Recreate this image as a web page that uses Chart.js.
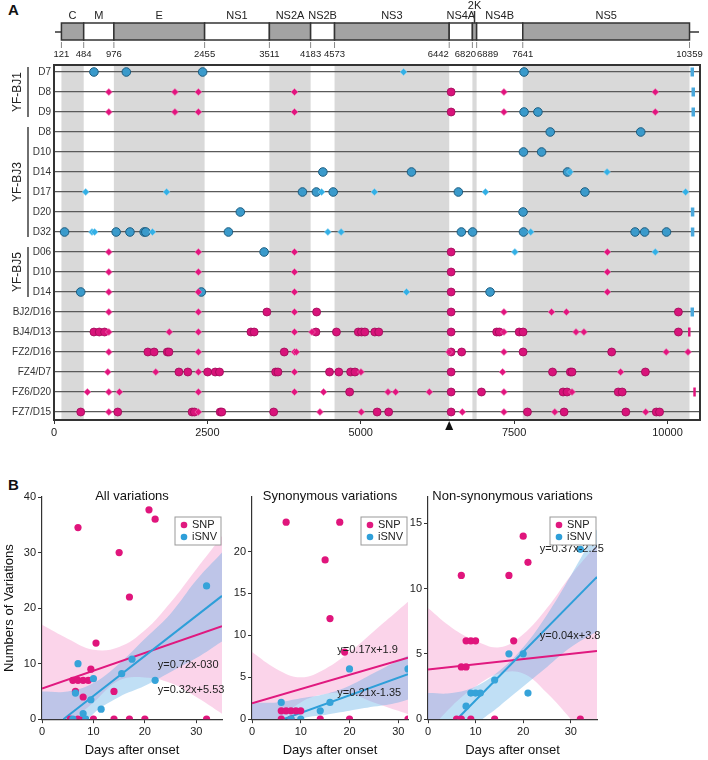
<!DOCTYPE html>
<html>
<head>
<meta charset="utf-8">
<script src="https://cdn.jsdelivr.net/npm/chart.js@4.4.0/dist/chart.umd.min.js"></script>
<style>
body { margin: 0; background: #fff; font-family: Arial, "Liberation Sans", sans-serif; }
#wrap { position: relative; width: 708px; height: 760px; overflow: hidden; }
canvas { position: absolute; }
.tag { position: absolute; font-weight: bold; font-size: 15px; color: #111; }
</style>
</head>
<body>
<div id="wrap">
  <div class="tag" style="left:8px;top:1px">A</div>
  <div class="tag" style="left:8px;top:476px">B</div>
  <canvas id="genome" style="left:0;top:0" width="708" height="442"></canvas>
  <canvas id="allVar" style="left:0;top:482px" width="232" height="278"></canvas>
  <canvas id="synVar" style="left:232px;top:482px" width="184" height="278"></canvas>
  <canvas id="nonVar" style="left:410px;top:482px" width="298" height="278"></canvas>
</div>
<script>
// ---------- panel A data ----------
var rowLabels = ["D7", "D8", "D9", "D8", "D10", "D14", "D17", "D20", "D32", "D06", "D10", "D14",
                 "BJ2/D16", "BJ4/D13", "FZ2/D16", "FZ4/D7", "FZ6/D20", "FZ7/D15"];
var groupNames = ["YF-BJ1", "YF-BJ3", "YF-BJ5"];
var groupRows = [[0, 2], [3, 8], [9, 11]];

var geneNames = ["C", "M", "E", "NS1", "NS2A", "NS2B", "NS3", "NS4A", "2K", "NS4B", "NS5"];
var geneStarts = [121, 484, 976, 2455, 3511, 4183, 4573, 6442, 6820, 6889, 7641];
var genomeEnd = 10359;
var greyGenes = ["C", "E", "NS2A", "NS3", "2K", "NS5"];
var xTicks = [0, 2500, 5000, 7500, 10000];

// positions per row (index = row in rowLabels)
var snpSyn = [
  [], [894, 1971, 2353, 3920, 7334, 9801], [894, 1971, 2353, 3920, 7334, 9801],
  [], [], [], [], [], [],
  [894, 2353, 3920, 9020], [894, 2353, 3920, 9020], [894, 2353, 3920, 9020],
  [894, 2353, 3920, 7334, 8110, 8352],
  [894, 1879, 2353, 3920, 4205, 7334, 8509, 8638],
  [894, 2353, 3920, 3950, 6440, 7334, 9979, 10334],
  [877, 1659, 2353, 3920, 5003, 7313, 9236],
  [544, 894, 1066, 2353, 3920, 4394, 5444, 5569, 6118, 7334, 8444],
  [894, 2353, 4335, 5008, 6656, 7334, 8163, 9645]
];
var snpNonsyn = [
  [], [6473], [6473],
  [], [], [], [], [], [],
  [6473], [6473], [6473],
  [3470, 4281, 6473, 10178],
  [651, 738, 824, 3210, 3263, 4270, 4604, 4960, 5013, 5067, 5229, 5294, 6473, 7216, 7259, 7582, 7646, 10178],
  [1530, 1632, 1847, 1874, 3753, 6473, 6645, 7646, 9090],
  [2036, 2181, 2504, 2628, 2698, 3613, 3651, 4491, 4642, 4835, 4906, 6473, 8126, 8417, 8444, 9640],
  [4819, 6473, 6968, 8298, 8363, 9197, 9262],
  [436, 1039, 2251, 2289, 2709, 2735, 3581, 5267, 5455, 6473, 7717, 8315, 9321, 9817, 9871]
];
var isnvNonsyn = [
  [651, 1179, 2423, 7662], [], [7662, 7888],
  [8089, 9564], [7652, 7948], [4383, 5827, 8370], [4050, 4276, 4551, 6591, 8654], [3037, 7646],
  [172, 1013, 1238, 1470, 1497, 2843, 6640, 6823, 7652, 9472, 9628, 9984],
  [3425], [], [436, 2402, 7108],
  [], [], [], [], [], []
];
var isnvSyn = [
  [5698], [], [],
  [], [], [8410, 9015], [517, 1836, 4362, 5223, 7033, 10296], [],
  [619, 662, 1605, 4464, 4680, 7771],
  [7512, 9801], [], [5746],
  [], [], [], [], [], []
];
var utrIsnv = [
  [10404], [10420], [10420], [], [], [], [], [10409], [10409],
  [], [], [], [10404], [], [], [], [], []
];
var utrSnp = [
  [], [], [], [], [], [], [], [], [], [], [], [], [], [10355], [], [], [10441], []
];
var markerPos = 6442;

function toPoints(rows) {
  var pts = [];
  rows.forEach(function (list, r) {
    list.forEach(function (p) { pts.push({x: p, y: r}); });
  });
  return pts;
}

var magenta = "#e2147e";
var blueDark = "#3a9acb";
var blueLight = "#33b0e6";

function geneEnd(i) {
  return i + 1 < geneStarts.length ? geneStarts[i + 1] : genomeEnd;
}

var genomeDecor = {
  id: "genomeDecor",
  beforeDraw: function (chart) {
    var ctx = chart.ctx, a = chart.chartArea, xs = chart.scales.x;
    ctx.save();
    ctx.fillStyle = "#d9d9d9";
    geneNames.forEach(function (g, i) {
      if (greyGenes.indexOf(g) < 0) return;
      var x1 = xs.getPixelForValue(geneStarts[i]), x2 = xs.getPixelForValue(geneEnd(i));
      ctx.fillRect(x1, a.top, x2 - x1, a.bottom - a.top);
    });
    ctx.restore();
  },
  afterDraw: function (chart) {
    var ctx = chart.ctx, a = chart.chartArea, xs = chart.scales.x, ys = chart.scales.y;
    ctx.save();
    // frame
    ctx.strokeStyle = "#333";
    ctx.lineWidth = 2;
    ctx.strokeRect(a.left, a.top, a.right - a.left, a.bottom - a.top);

    // genome map
    var top = 23, bot = 40, mid = 32;
    ctx.lineWidth = 1.5;
    ctx.beginPath();
    ctx.moveTo(a.left + 1, mid); ctx.lineTo(a.right - 1, mid);
    ctx.stroke();
    geneNames.forEach(function (g, i) {
      var x1 = xs.getPixelForValue(geneStarts[i]), x2 = xs.getPixelForValue(geneEnd(i));
      ctx.fillStyle = greyGenes.indexOf(g) >= 0 ? "#a3a3a3" : "#fff";
      ctx.fillRect(x1, top, x2 - x1, bot - top);
      ctx.strokeRect(x1, top, x2 - x1, bot - top);
    });
    ctx.fillStyle = "#222";
    ctx.font = "11px Arial, 'Liberation Sans'";
    ctx.textAlign = "center";
    ctx.textBaseline = "middle";
    geneNames.forEach(function (g, i) {
      var cx = (xs.getPixelForValue(geneStarts[i]) + xs.getPixelForValue(geneEnd(i))) / 2;
      if (g === "2K") {
        ctx.fillText(g, cx, 6);
        ctx.beginPath(); ctx.moveTo(cx, 11); ctx.lineTo(cx, top); ctx.stroke();
      } else {
        ctx.fillText(g, cx, 16);
      }
    });
    // coordinates
    var coords = geneStarts.concat([genomeEnd]);
    var shift = {6442: -11, 6820: -7, 6889: 11};
    ctx.font = "9.5px Arial, 'Liberation Sans'";
    ctx.strokeStyle = "#888";
    ctx.lineWidth = 1;
    coords.forEach(function (c) {
      var px = xs.getPixelForValue(c);
      ctx.beginPath(); ctx.moveTo(px, 42); ctx.lineTo(px, 48); ctx.stroke();
      ctx.fillText(String(c), px + (shift[c] || 0), 54);
    });

    // group labels
    ctx.strokeStyle = "#222";
    ctx.lineWidth = 1.3;
    ctx.font = "12px Arial, 'Liberation Sans'";
    groupNames.forEach(function (g, i) {
      var y1 = ys.getPixelForValue(groupRows[i][0]) - 5, y2 = ys.getPixelForValue(groupRows[i][1]) + 5;
      ctx.beginPath(); ctx.moveTo(28, y1); ctx.lineTo(28, y2); ctx.stroke();
      ctx.save();
      ctx.translate(18, (y1 + y2) / 2);
      ctx.rotate(-Math.PI / 2);
      ctx.fillText(g, 0, 0);
      ctx.restore();
    });

    // arrow head under the axis
    var mx = xs.getPixelForValue(markerPos);
    ctx.fillStyle = "#111";
    ctx.beginPath();
    ctx.moveTo(mx, a.bottom + 1); ctx.lineTo(mx - 4, a.bottom + 10); ctx.lineTo(mx + 4, a.bottom + 10);
    ctx.closePath(); ctx.fill();
    ctx.restore();
  }
};

new Chart(document.getElementById("genome"), {
  type: "scatter",
  data: {
    datasets: [
      {label: "SNP syn", data: toPoints(snpSyn), pointStyle: "rectRot", pointRadius: 3.5,
       backgroundColor: magenta, borderColor: "#f27ab8", borderWidth: 0.6, order: 1},
      {label: "iSNV syn", data: toPoints(isnvSyn), pointStyle: "rectRot", pointRadius: 3.5,
       backgroundColor: blueLight, borderColor: "#8fd3f2", borderWidth: 0.6, order: 2},
      {label: "SNP nonsyn", data: toPoints(snpNonsyn), pointStyle: "circle", pointRadius: 4,
       backgroundColor: "#d8137a", borderColor: "#a00a58", borderWidth: 0.8, order: 3},
      {label: "iSNV nonsyn", data: toPoints(isnvNonsyn), pointStyle: "circle", pointRadius: 4.3,
       backgroundColor: blueDark, borderColor: "#1d5d80", borderWidth: 1, order: 4},
      {label: "UTR iSNV", data: toPoints(utrIsnv), pointStyle: "line", rotation: 90, pointRadius: 4.5,
       borderColor: "#4aa8dc", borderWidth: 3.5, order: 5},
      {label: "UTR SNP", data: toPoints(utrSnp), pointStyle: "line", rotation: 90, pointRadius: 4.5,
       borderColor: magenta, borderWidth: 2.5, order: 6}
    ]
  },
  options: {
    responsive: false,
    animation: false,
    layout: {padding: {top: 65, right: 2, left: 0, bottom: 0}},
    plugins: {legend: {display: false}, tooltip: {enabled: false}},
    scales: {
      x: {
        type: "linear", min: 0, max: 10530,
        afterBuildTicks: function (s) { s.ticks = xTicks.map(function (v) { return {value: v}; }); },
        ticks: {color: "#222", font: {size: 11, family: "Arial"}, padding: 2, maxRotation: 0,
                callback: function (v) { return String(v); }},
        grid: {display: true, drawOnChartArea: false, drawTicks: true, tickLength: 4, color: "#333"},
        border: {display: false},
        afterFit: function (s) { s.height = 22; }
      },
      y: {
        type: "linear", reverse: true, min: -0.35, max: 17.4,
        afterBuildTicks: function (s) { s.ticks = rowLabels.map(function (l, i) { return {value: i}; }); },
        ticks: {
          color: "#333", font: {size: 10, family: "Arial"}, padding: 3, autoSkip: false,
          callback: function (v) { return rowLabels[v]; }
        },
        grid: {color: "#5a5a5a", lineWidth: 1.3, drawTicks: false},
        border: {display: false},
        afterFit: function (s) { s.width = 54; }
      }
    }
  },
  plugins: [genomeDecor]
});

// ---------- panel B data ----------
var allSnpDays   = [7, 15, 17, 20.8, 22, 10.5, 9.5, 6, 7, 8, 9, 6.5, 14, 8, 5.5, 7, 8, 10, 14, 17, 20, 32];
var allSnpCounts = [34.5, 30, 22, 37.7, 36, 13.7, 9, 7, 7, 7, 7, 5, 5, 4, 0, 0, 0, 0, 0, 0, 0, 0];
var allIsnvDays   = [7, 6.5, 10, 9.5, 15.5, 17.5, 22, 32, 11.5, 8, 6, 8.5];
var allIsnvCounts = [10, 4.7, 7.3, 3.5, 8.2, 10.8, 7, 24, 1.8, 1, 0, 0];
var allSnpFit = [0.32, 5.53], allIsnvFit = [0.72, -3.0];
var allBandX = [0, 5, 10, 15, 20, 25, 30, 35];
var allSnpHi = [17, 14.5, 12.5, 13, 16, 21, 27, 33];
var allSnpLo = [-6, -1, 3, 7, 7.5, 6.5, 4, 1];
var allIsnvHi = [5, 5, 6.5, 10, 14.5, 19, 25, 30];
var allIsnvLo = [-12, -4.5, 1, 4, 6, 8.5, 11, 14];

var synSnpDays   = [7, 18, 15, 16, 19, 6, 7, 8, 9, 10, 6, 8, 14, 20, 32];
var synSnpCounts = [23.5, 23.5, 19, 12, 8, 1, 1, 1, 1, 1, 0, 0, 0, 0, 0];
var synIsnvDays   = [6, 16, 20, 32, 14, 10, 8];
var synIsnvCounts = [2, 2, 6, 6, 1, 0, 0];
var synSnpFit = [0.17, 1.9], synIsnvFit = [0.21, -1.35];
var synBandX = [0, 5, 10, 15, 20, 25, 30, 35];
var synSnpHi = [8, 6, 5, 6, 8, 10.5, 13, 15.5];
var synSnpLo = [-4, -0.5, 2, 3, 3, 2, 1, 0];
var synIsnvHi = [2, 2, 2.5, 3, 4, 5.5, 7, 8.5];
var synIsnvLo = [-5, -2, 0, 0.5, 1, 1.5, 2, 3];

var nonSnpDays   = [7, 17, 20, 21, 8, 9, 10, 18, 7, 8, 6, 7, 9, 14, 32];
var nonSnpCounts = [11, 11, 14, 12, 6, 6, 6, 6, 4, 4, 0, 0, 0, 0, 0];
var nonIsnvDays   = [32, 17, 20, 9, 10, 11, 14, 8, 21];
var nonIsnvCounts = [13, 5, 5, 2, 2, 2, 3, 1, 2];
var nonSnpFit = [0.04, 3.8], nonIsnvFit = [0.37, -2.25];
var nonBandX = [0, 5, 10, 15, 20, 25, 30, 37];
var nonSnpHi = [8.5, 7, 6, 5.5, 6.5, 8.5, 11, 14];
var nonSnpLo = [-1, 1, 2.5, 3.5, 3.5, 2, 0, -3];
var nonIsnvHi = [2, 2, 2.5, 3.7, 5.5, 8, 11, 15.5];
var nonIsnvLo = [-6, -3, -0.5, 1, 2.5, 4, 5.5, 7];

var pinkLine = "#e0197f", blueLine = "#2e9fd9";
var pinkBand = "rgba(242,120,190,0.32)", blueBand = "rgba(90,170,230,0.38)";

function pairs(xs, ys) {
  return xs.map(function (x, i) { return {x: x, y: ys[i]}; });
}
function fitLine(fit, x0, x1) {
  var start = Math.max(x0, fit[1] < 0 ? -fit[1] / fit[0] : x0);
  return [{x: start, y: fit[0] * start + fit[1]}, {x: x1, y: fit[0] * x1 + fit[1]}];
}
function eqText(fit) {
  return "y=" + fit[0].toFixed(2) + "x" + (fit[1] < 0 ? "-" : "+") + Math.abs(fit[1]);
}

var panelDecor = {
  id: "panelDecor",
  afterDraw: function (chart) {
    var o = chart.options.plugins.panelDecor, ctx = chart.ctx, a = chart.chartArea;
    var xs = chart.scales.x, ys = chart.scales.y;
    ctx.save();
    // title
    ctx.font = "13px Arial, 'Liberation Sans'";
    ctx.fillStyle = "#111";
    ctx.textAlign = "center";
    ctx.textBaseline = "middle";
    ctx.fillText(o.title, (a.left + a.right) / 2, a.top - 1);
    ctx.textAlign = "left";
    ctx.font = "11px Arial, 'Liberation Sans'";
    o.labels.forEach(function (l) {
      ctx.fillStyle = "#222";
      ctx.fillText(l.text, xs.getPixelForValue(l.x), ys.getPixelForValue(l.y));
    });
    // legend box
    var lx = a.right - o.legendW - 1, ly = a.top + 20;
    ctx.strokeStyle = "#999"; ctx.lineWidth = 1;
    ctx.fillStyle = "#fff";
    ctx.fillRect(lx, ly, o.legendW, 28);
    ctx.strokeRect(lx, ly, o.legendW, 28);
    [["SNP", pinkLine], ["iSNV", blueLine]].forEach(function (e, i) {
      ctx.fillStyle = e[1];
      ctx.beginPath(); ctx.arc(lx + 9, ly + 8 + i * 12, 3.3, 0, Math.PI * 2); ctx.fill();
      ctx.fillStyle = "#222";
      ctx.fillText(e[0], lx + 17, ly + 8 + i * 12);
    });
    ctx.restore();
  }
};

function regChart(id, cfg) {
  var ds = [
    {type: "line", data: pairs(cfg.bandX, cfg.snpHi), borderWidth: 0, pointRadius: 0, tension: 0.4,
     backgroundColor: pinkBand, fill: "+1", order: 10},
    {type: "line", data: pairs(cfg.bandX, cfg.snpLo), borderWidth: 0, pointRadius: 0, tension: 0.4, order: 11},
    {type: "line", data: pairs(cfg.bandX, cfg.isnvHi), borderWidth: 0, pointRadius: 0, tension: 0.4,
     backgroundColor: blueBand, fill: "+1", order: 8},
    {type: "line", data: pairs(cfg.bandX, cfg.isnvLo), borderWidth: 0, pointRadius: 0, tension: 0.4, order: 9},
    {type: "line", data: fitLine(cfg.snpFit, 0, cfg.xMax), borderColor: pinkLine, borderWidth: 2,
     pointRadius: 0, fill: false, order: 6},
    {type: "line", data: fitLine(cfg.isnvFit, 0, cfg.xMax), borderColor: blueLine, borderWidth: 2,
     pointRadius: 0, fill: false, order: 5},
    {label: "SNP", data: pairs(cfg.snpX, cfg.snpY), pointRadius: 3.6, backgroundColor: "#e0157c",
     borderWidth: 0, order: 2},
    {label: "iSNV", data: pairs(cfg.isnvX, cfg.isnvY), pointRadius: 3.6, backgroundColor: "#36a3d9",
     borderWidth: 0, order: 1}
  ];
  return new Chart(document.getElementById(id), {
    type: "scatter",
    data: {datasets: ds},
    options: {
      responsive: false,
      animation: false,
      layout: {padding: {top: 15, right: cfg.padRight, left: 0, bottom: 0}},
      plugins: {
        legend: {display: false}, tooltip: {enabled: false},
        panelDecor: {title: cfg.title, labels: cfg.labels, legendW: 46}
      },
      scales: {
        x: {
          type: "linear", min: 0, max: cfg.xMax,
          afterBuildTicks: function (s) { s.ticks = [0, 10, 20, 30].map(function (v) { return {value: v}; }); },
          ticks: {color: "#222", font: {size: 11, family: "Arial"}, padding: 2},
          grid: {drawOnChartArea: false, tickLength: 4, color: "#333"},
          border: {color: "#333", width: 1.2},
          title: {display: true, text: "Days after onset", color: "#111", font: {size: 13, family: "Arial"}, padding: 2}
        },
        y: {
          type: "linear", min: 0, max: cfg.yMax,
          afterBuildTicks: function (s) { s.ticks = cfg.yTicks.map(function (v) { return {value: v}; }); },
          ticks: {color: "#222", font: {size: 11, family: "Arial"}, padding: 2},
          grid: {drawOnChartArea: false, tickLength: 4, color: "#333"},
          border: {color: "#333", width: 1.2},
          title: {display: !!cfg.yTitle, text: cfg.yTitle || "", color: "#111", font: {size: 13, family: "Arial"}, padding: 2},
          afterFit: function (s) { s.width = cfg.yWidth; }
        }
      }
    },
    plugins: [panelDecor]
  });
}

regChart("allVar", {
  title: "All variations", yTitle: "Numbers of Variations", yWidth: 42, padRight: 10,
  xMax: 35, yMax: 40, yTicks: [0, 10, 20, 30, 40],
  snpX: allSnpDays, snpY: allSnpCounts, isnvX: allIsnvDays, isnvY: allIsnvCounts,
  snpFit: allSnpFit, isnvFit: allIsnvFit,
  bandX: allBandX, snpHi: allSnpHi, snpLo: allSnpLo, isnvHi: allIsnvHi, isnvLo: allIsnvLo,
  labels: [{text: "y=0.72x-030", x: 22.5, y: 9.7}, {text: eqText(allSnpFit), x: 22.5, y: 5.2}]
});
regChart("synVar", {
  title: "Synonymous variations", yWidth: 20, padRight: 8,
  xMax: 32, yMax: 26.5, yTicks: [0, 5, 10, 15, 20],
  snpX: synSnpDays, snpY: synSnpCounts, isnvX: synIsnvDays, isnvY: synIsnvCounts,
  snpFit: synSnpFit, isnvFit: synIsnvFit,
  bandX: synBandX, snpHi: synSnpHi, snpLo: synSnpLo, isnvHi: synIsnvHi, isnvLo: synIsnvLo,
  labels: [{text: eqText(synSnpFit), x: 17.5, y: 8.2}, {text: eqText(synIsnvFit), x: 17.5, y: 3.1}]
});
regChart("nonVar", {
  title: "Non-synonymous variations", yWidth: 18, padRight: 111,
  xMax: 35.5, yMax: 17, yTicks: [0, 5, 10, 15],
  snpX: nonSnpDays, snpY: nonSnpCounts, isnvX: nonIsnvDays, isnvY: nonIsnvCounts,
  snpFit: nonSnpFit, isnvFit: nonIsnvFit,
  bandX: nonBandX, snpHi: nonSnpHi, snpLo: nonSnpLo, isnvHi: nonIsnvHi, isnvLo: nonIsnvLo,
  labels: [{text: eqText(nonIsnvFit), x: 23.5, y: 13}, {text: eqText(nonSnpFit), x: 23.5, y: 6.4}]
});
</script>
</body>
</html>
